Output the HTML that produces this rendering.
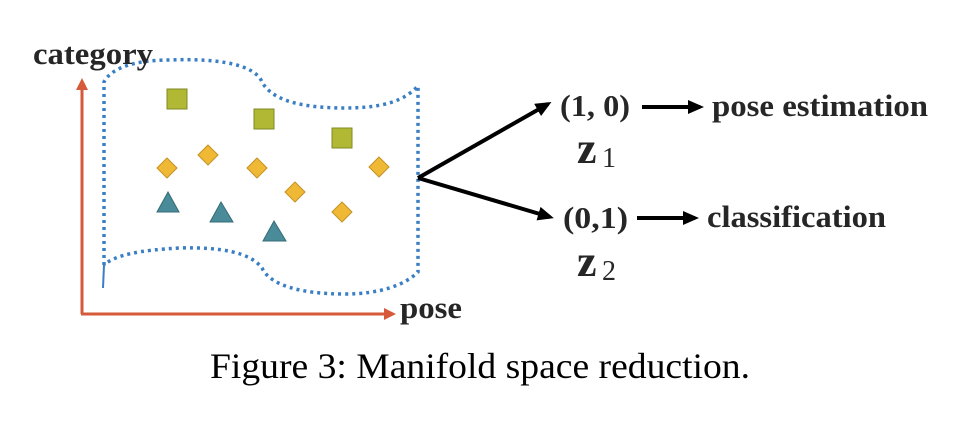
<!DOCTYPE html>
<html><head><meta charset="utf-8"><style>
html,body{margin:0;padding:0;background:#fff;}
svg{display:block;}
text{font-family:"Liberation Serif",serif;fill:#262626;}
</style></head><body>
<svg width="970" height="436" viewBox="0 0 970 436" xmlns="http://www.w3.org/2000/svg">
<defs>
<marker id="ba" markerWidth="16" markerHeight="14" refX="12" refY="7" orient="auto" markerUnits="userSpaceOnUse"><path d="M0,0 L16,7 L0,14 Z" fill="#000"/></marker>
</defs>
<!-- axes -->
<line x1="82" y1="314" x2="82" y2="86" stroke="#d65a3a" stroke-width="3"/>
<path d="M82,78 l-6,12 h12 z" fill="#d65a3a"/>
<line x1="81" y1="314" x2="390" y2="314" stroke="#d65a3a" stroke-width="3"/>
<path d="M396,314 l-12,-6 v12 z" fill="#d65a3a"/>
<!-- manifold -->
<path d="M104,265 L104,82 C110,70 130,60 170,60 C220,58 255,65 262,82 C272,100 300,108 345,108 C385,108 405,100 418,86 L418,272 C405,285 380,294 345,294 C300,294 270,285 262,268 C250,252 220,247 180,248 C140,250 115,255 104,265" fill="none" stroke="#3a7fc4" stroke-width="3.5" stroke-dasharray="3,4"/>
<path d="M104,265 L103,288" stroke="#3a7fc4" stroke-width="2"/>
<g fill="#b0b834" stroke="#7f8a23" stroke-width="1">
<rect x="167" y="89" width="20" height="20"/>
<rect x="254" y="109" width="20" height="20"/>
<rect x="332" y="128" width="20" height="20"/>
</g>
<g fill="#efb935" stroke="#c49325" stroke-width="1">
<path d="M167,158 l10,10 l-10,10 l-10,-10z"/>
<path d="M208,145 l10,10 l-10,10 l-10,-10z"/>
<path d="M257,158 l10,10 l-10,10 l-10,-10z"/>
<path d="M295,182 l10,10 l-10,10 l-10,-10z"/>
<path d="M342,202 l10,10 l-10,10 l-10,-10z"/>
<path d="M379,157 l10,10 l-10,10 l-10,-10z"/>
</g>
<g fill="#4a8b99" stroke="#356b77" stroke-width="1">
<path d="M168,192 L179,212 L157,212z"/>
<path d="M221,202 L233,222 L210,222z"/>
<path d="M274,221 L286,241 L263,241z"/>
</g>
<line x1="418" y1="178" x2="548" y2="104" stroke="#000" stroke-width="4" marker-end="url(#ba)"/>
<line x1="418" y1="178" x2="550" y2="217" stroke="#000" stroke-width="4" marker-end="url(#ba)"/>
<line x1="642" y1="107" x2="700" y2="107" stroke="#000" stroke-width="4" marker-end="url(#ba)"/>
<line x1="637" y1="218" x2="695" y2="218" stroke="#000" stroke-width="4" marker-end="url(#ba)"/>
<text x="33" y="64" font-size="31" font-weight="bold" textLength="120" lengthAdjust="spacingAndGlyphs">category</text>
<text x="400" y="318" font-size="31" font-weight="bold" textLength="62" lengthAdjust="spacingAndGlyphs">pose</text>
<text x="560" y="116" font-size="31" font-weight="bold" textLength="70" lengthAdjust="spacingAndGlyphs">(1, 0)</text>
<text x="563" y="228" font-size="31" font-weight="bold" textLength="65" lengthAdjust="spacingAndGlyphs">(0,1)</text>
<text x="712" y="116" font-size="31" font-weight="bold" textLength="216" lengthAdjust="spacingAndGlyphs">pose estimation</text>
<text x="707" y="227" font-size="31" font-weight="bold" textLength="179" lengthAdjust="spacingAndGlyphs">classification</text>
<text x="577" y="163" font-size="44" font-weight="bold">z</text>
<text x="602" y="167" font-size="28">1</text>
<text x="577" y="276" font-size="44" font-weight="bold">z</text>
<text x="602" y="280" font-size="28">2</text>
<text x="210" y="378" font-size="36" textLength="540" lengthAdjust="spacingAndGlyphs" style="fill:#000">Figure 3: Manifold space reduction.</text>
</svg>
</body></html>
